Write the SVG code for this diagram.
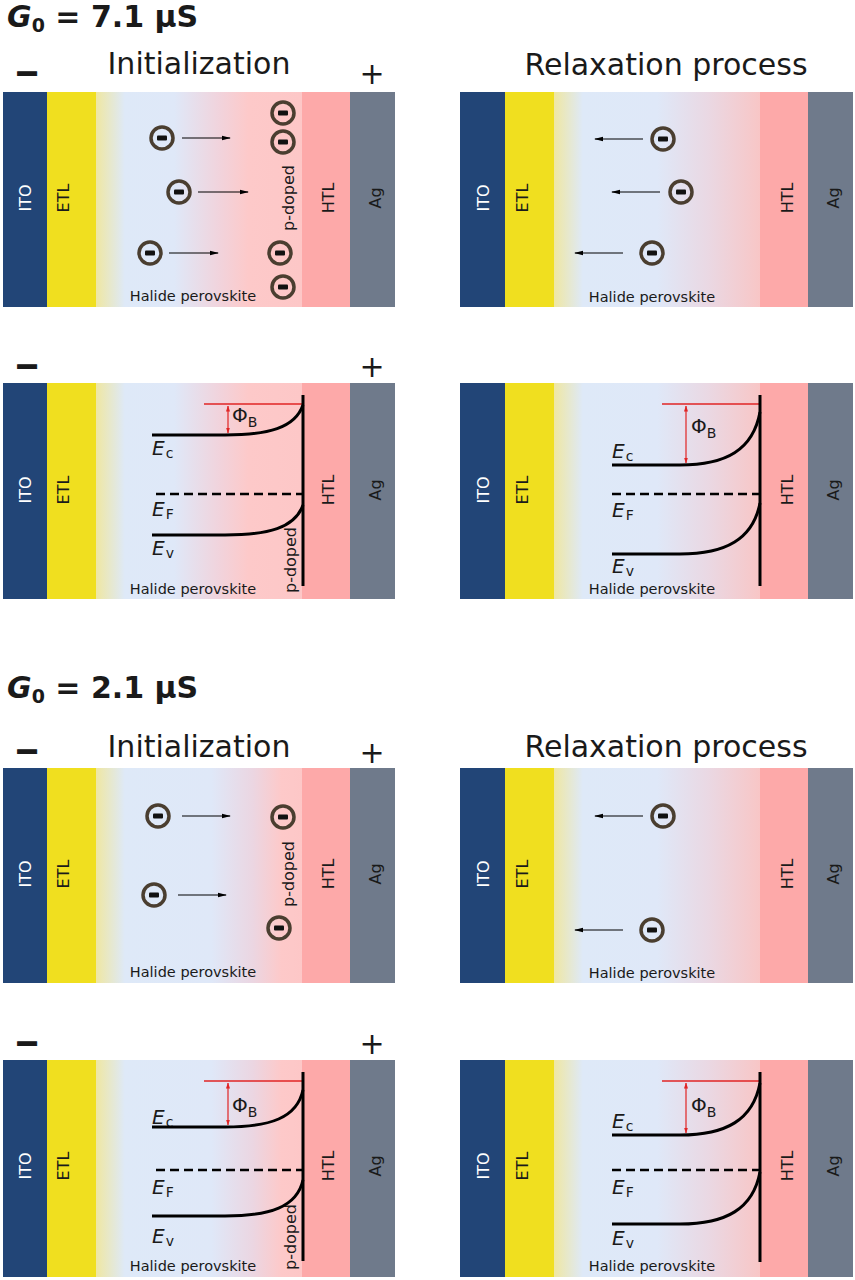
<svg xmlns="http://www.w3.org/2000/svg" width="855" height="1280" viewBox="0 0 855 1280">
<style>
text{font-family:"DejaVu Sans","Verdana",sans-serif;fill:#1a1a1a}
.title{font-size:30px;font-weight:bold}
.head{font-size:30px}
.sign{font-size:30px}
.minus{font-size:30px;font-weight:bold;stroke:#1a1a1a;stroke-width:1.2}
.lay{font-size:16px}
.wht{fill:#ffffff}
.hp{font-size:14.5px}
.band{fill:none;stroke:#000;stroke-width:3}
.dash{fill:none;stroke:#000;stroke-width:2.5;stroke-dasharray:9 5}
.vline{stroke:#000;stroke-width:3}
.red{stroke:#e02424;stroke-width:1.5;fill:none}
.redarr{stroke:#e02424;stroke-width:1.2;marker-start:url(#rh);marker-end:url(#rh)}
.arr{stroke:#000;stroke-width:1.2;marker-end:url(#ah)}
.E{font-size:20px;font-style:italic}
.sub{font-size:14px;font-style:normal}
.phi{font-size:20px}
</style>
<defs>
<marker id="ah" markerWidth="9" markerHeight="6" refX="8" refY="3" orient="auto" markerUnits="userSpaceOnUse"><path d="M0,0.8 L9,3 L0,5.2 Z" fill="#000"/></marker>
<marker id="rh" markerWidth="6" markerHeight="5" refX="5.5" refY="2.5" orient="auto-start-reverse" markerUnits="userSpaceOnUse"><path d="M0,0.5 L6,2.5 L0,4.5 Z" fill="#e02424"/></marker>
<linearGradient id="gA" x1="0" y1="0" x2="1" y2="0">
<stop offset="0" stop-color="#efe7a2"/><stop offset="0.14" stop-color="#dee9f8"/><stop offset="0.38" stop-color="#dfe8f8"/><stop offset="0.6" stop-color="#f1d3dc"/><stop offset="0.74" stop-color="#fdc9c9"/><stop offset="1" stop-color="#fdc7c7"/>
</linearGradient>
<linearGradient id="gB" x1="0" y1="0" x2="1" y2="0">
<stop offset="0" stop-color="#efe7a2"/><stop offset="0.14" stop-color="#dee9f8"/><stop offset="0.56" stop-color="#dfe8f8"/><stop offset="0.76" stop-color="#ebd6e2"/><stop offset="0.9" stop-color="#fdc9c9"/><stop offset="1" stop-color="#fdc7c7"/>
</linearGradient>
<linearGradient id="gC" x1="0" y1="0" x2="1" y2="0">
<stop offset="0" stop-color="#efe7a2"/><stop offset="0.14" stop-color="#dee9f8"/><stop offset="0.5" stop-color="#dfe8f8"/><stop offset="0.75" stop-color="#ead8e3"/><stop offset="1" stop-color="#f8c6c6"/>
</linearGradient>
<g id="ion"><circle r="11" fill="none" stroke="#4a3e30" stroke-width="3.5"/><rect x="-5" y="-2.5" width="10" height="5" rx="1" fill="#111"/></g>
</defs>
<rect width="855" height="1280" fill="#ffffff"/>

<g id="titles">
<text class="title" x="7" y="27"><tspan font-style="italic">G</tspan><tspan font-size="19" dy="5">0</tspan><tspan dy="-5"> = 7.1 μS</tspan></text>
<text class="head" x="199" y="74" text-anchor="middle">Initialization</text>
<text class="head" x="666" y="75" text-anchor="middle">Relaxation process</text>
<text class="minus" x="27" y="83" text-anchor="middle">−</text>
<text class="sign" x="372" y="84" text-anchor="middle">+</text>
<text class="minus" x="27" y="376" text-anchor="middle">−</text>
<text class="sign" x="372" y="377" text-anchor="middle">+</text>
<text class="title" x="7" y="698"><tspan font-style="italic">G</tspan><tspan font-size="19" dy="5">0</tspan><tspan dy="-5"> = 2.1 μS</tspan></text>
<text class="head" x="199" y="757" text-anchor="middle">Initialization</text>
<text class="head" x="666" y="757" text-anchor="middle">Relaxation process</text>
<text class="minus" x="27" y="761" text-anchor="middle">−</text>
<text class="sign" x="372" y="763" text-anchor="middle">+</text>
<text class="minus" x="27" y="1053" text-anchor="middle">−</text>
<text class="sign" x="372" y="1054" text-anchor="middle">+</text>
</g>

<g id="panel-r1-left" transform="translate(3,92)">
<rect x="0" y="0" width="44" height="215" fill="#224577"/>
<rect x="44" y="0" width="49" height="215" fill="#f0df1f"/>
<rect x="93" y="0" width="206" height="215" fill="url(#gA)"/>
<rect x="299" y="0" width="48" height="215" fill="#fda9a9"/>
<rect x="347" y="0" width="45" height="215" fill="#6f7a8b"/>
<text class="lay wht" transform="translate(22,106) rotate(-90)" text-anchor="middle" dominant-baseline="central">ITO</text>
<text class="lay" transform="translate(60,106) rotate(-90)" text-anchor="middle" dominant-baseline="central">ETL</text>
<text class="lay" transform="translate(325,106) rotate(-90)" text-anchor="middle" dominant-baseline="central">HTL</text>
<text class="lay" transform="translate(372,106) rotate(-90)" text-anchor="middle" dominant-baseline="central">Ag</text>
<text class="lay" transform="translate(285,106) rotate(-90)" text-anchor="middle" dominant-baseline="central">p-doped</text>
<text class="hp" x="190" y="209" text-anchor="middle">Halide perovskite</text>
</g>

<g id="panel-r1-right" transform="translate(460,92)">
<rect x="0" y="0" width="45" height="215" fill="#224577"/>
<rect x="45" y="0" width="49" height="215" fill="#f0df1f"/>
<rect x="94" y="0" width="206" height="215" fill="url(#gC)"/>
<rect x="300" y="0" width="48" height="215" fill="#fda9a9"/>
<rect x="348" y="0" width="45" height="215" fill="#6f7a8b"/>
<text class="lay wht" transform="translate(23,106) rotate(-90)" text-anchor="middle" dominant-baseline="central">ITO</text>
<text class="lay" transform="translate(62,106) rotate(-90)" text-anchor="middle" dominant-baseline="central">ETL</text>
<text class="lay" transform="translate(327,106) rotate(-90)" text-anchor="middle" dominant-baseline="central">HTL</text>
<text class="lay" transform="translate(373,106) rotate(-90)" text-anchor="middle" dominant-baseline="central">Ag</text>
<text class="hp" x="192" y="210" text-anchor="middle">Halide perovskite</text>
</g>

<g id="panel-r2-left" transform="translate(3,383)">
<rect x="0" y="0" width="44" height="216" fill="#224577"/>
<rect x="44" y="0" width="49" height="216" fill="#f0df1f"/>
<rect x="93" y="0" width="206" height="216" fill="url(#gA)"/>
<rect x="299" y="0" width="48" height="216" fill="#fda9a9"/>
<rect x="347" y="0" width="45" height="216" fill="#6f7a8b"/>
<text class="lay wht" transform="translate(22,107) rotate(-90)" text-anchor="middle" dominant-baseline="central">ITO</text>
<text class="lay" transform="translate(60,107) rotate(-90)" text-anchor="middle" dominant-baseline="central">ETL</text>
<text class="lay" transform="translate(325,107) rotate(-90)" text-anchor="middle" dominant-baseline="central">HTL</text>
<text class="lay" transform="translate(372,107) rotate(-90)" text-anchor="middle" dominant-baseline="central">Ag</text>
<text class="lay" transform="translate(287,177) rotate(-90)" text-anchor="middle" dominant-baseline="central">p-doped</text>
<text class="hp" x="190" y="211" text-anchor="middle">Halide perovskite</text>
</g>

<g id="panel-r2-right" transform="translate(460,383)">
<rect x="0" y="0" width="45" height="216" fill="#224577"/>
<rect x="45" y="0" width="49" height="216" fill="#f0df1f"/>
<rect x="94" y="0" width="206" height="216" fill="url(#gC)"/>
<rect x="300" y="0" width="48" height="216" fill="#fda9a9"/>
<rect x="348" y="0" width="45" height="216" fill="#6f7a8b"/>
<text class="lay wht" transform="translate(23,107) rotate(-90)" text-anchor="middle" dominant-baseline="central">ITO</text>
<text class="lay" transform="translate(62,107) rotate(-90)" text-anchor="middle" dominant-baseline="central">ETL</text>
<text class="lay" transform="translate(327,107) rotate(-90)" text-anchor="middle" dominant-baseline="central">HTL</text>
<text class="lay" transform="translate(373,107) rotate(-90)" text-anchor="middle" dominant-baseline="central">Ag</text>
<text class="hp" x="192" y="211" text-anchor="middle">Halide perovskite</text>
</g>

<g id="panel-r3-left" transform="translate(3,768)">
<rect x="0" y="0" width="44" height="215" fill="#224577"/>
<rect x="44" y="0" width="49" height="215" fill="#f0df1f"/>
<rect x="93" y="0" width="206" height="215" fill="url(#gB)"/>
<rect x="299" y="0" width="48" height="215" fill="#fda9a9"/>
<rect x="347" y="0" width="45" height="215" fill="#6f7a8b"/>
<text class="lay wht" transform="translate(22,106) rotate(-90)" text-anchor="middle" dominant-baseline="central">ITO</text>
<text class="lay" transform="translate(60,106) rotate(-90)" text-anchor="middle" dominant-baseline="central">ETL</text>
<text class="lay" transform="translate(325,106) rotate(-90)" text-anchor="middle" dominant-baseline="central">HTL</text>
<text class="lay" transform="translate(372,106) rotate(-90)" text-anchor="middle" dominant-baseline="central">Ag</text>
<text class="lay" transform="translate(285,106) rotate(-90)" text-anchor="middle" dominant-baseline="central">p-doped</text>
<text class="hp" x="190" y="209" text-anchor="middle">Halide perovskite</text>
</g>

<g id="panel-r3-right" transform="translate(460,768)">
<rect x="0" y="0" width="45" height="215" fill="#224577"/>
<rect x="45" y="0" width="49" height="215" fill="#f0df1f"/>
<rect x="94" y="0" width="206" height="215" fill="url(#gC)"/>
<rect x="300" y="0" width="48" height="215" fill="#fda9a9"/>
<rect x="348" y="0" width="45" height="215" fill="#6f7a8b"/>
<text class="lay wht" transform="translate(23,106) rotate(-90)" text-anchor="middle" dominant-baseline="central">ITO</text>
<text class="lay" transform="translate(62,106) rotate(-90)" text-anchor="middle" dominant-baseline="central">ETL</text>
<text class="lay" transform="translate(327,106) rotate(-90)" text-anchor="middle" dominant-baseline="central">HTL</text>
<text class="lay" transform="translate(373,106) rotate(-90)" text-anchor="middle" dominant-baseline="central">Ag</text>
<text class="hp" x="192" y="210" text-anchor="middle">Halide perovskite</text>
</g>

<g id="panel-r4-left" transform="translate(3,1060)">
<rect x="0" y="0" width="44" height="217" fill="#224577"/>
<rect x="44" y="0" width="49" height="217" fill="#f0df1f"/>
<rect x="93" y="0" width="206" height="217" fill="url(#gB)"/>
<rect x="299" y="0" width="48" height="217" fill="#fda9a9"/>
<rect x="347" y="0" width="45" height="217" fill="#6f7a8b"/>
<text class="lay wht" transform="translate(22,106) rotate(-90)" text-anchor="middle" dominant-baseline="central">ITO</text>
<text class="lay" transform="translate(60,106) rotate(-90)" text-anchor="middle" dominant-baseline="central">ETL</text>
<text class="lay" transform="translate(325,106) rotate(-90)" text-anchor="middle" dominant-baseline="central">HTL</text>
<text class="lay" transform="translate(372,106) rotate(-90)" text-anchor="middle" dominant-baseline="central">Ag</text>
<text class="lay" transform="translate(287,177) rotate(-90)" text-anchor="middle" dominant-baseline="central">p-doped</text>
<text class="hp" x="190" y="211" text-anchor="middle">Halide perovskite</text>
</g>

<g id="panel-r4-right" transform="translate(460,1060)">
<rect x="0" y="0" width="45" height="217" fill="#224577"/>
<rect x="45" y="0" width="49" height="217" fill="#f0df1f"/>
<rect x="94" y="0" width="206" height="217" fill="url(#gC)"/>
<rect x="300" y="0" width="48" height="217" fill="#fda9a9"/>
<rect x="348" y="0" width="45" height="217" fill="#6f7a8b"/>
<text class="lay wht" transform="translate(23,106) rotate(-90)" text-anchor="middle" dominant-baseline="central">ITO</text>
<text class="lay" transform="translate(62,106) rotate(-90)" text-anchor="middle" dominant-baseline="central">ETL</text>
<text class="lay" transform="translate(327,106) rotate(-90)" text-anchor="middle" dominant-baseline="central">HTL</text>
<text class="lay" transform="translate(373,106) rotate(-90)" text-anchor="middle" dominant-baseline="central">Ag</text>
<text class="hp" x="192" y="211" text-anchor="middle">Halide perovskite</text>
</g>

<g id="band-r2-left">
<text class="E" x="152" y="455">E<tspan class="sub" dx="1" dy="3">c</tspan></text>
<text class="E" x="152" y="516">E<tspan class="sub" dx="1" dy="3">F</tspan></text>
<text class="E" x="152" y="555">E<tspan class="sub" dx="1" dy="3">v</tspan></text>
<path class="red" d="M204,404 H303"/>
<line class="redarr" x1="228" y1="406" x2="228" y2="433"/>
<text class="phi" x="232" y="422">Φ<tspan class="sub" dy="5">B</tspan></text>
<path class="band" d="M152,435 H225 C268,435 295,428 303,405"/>
<path class="band" d="M152,535 H225 C268,535 295,528 303,505"/>
<path class="dash" d="M156,494 H303"/>
<line class="vline" x1="303" y1="395" x2="303" y2="586"/>
</g>

<g id="band-r2-right">
<text class="E" x="612" y="458">E<tspan class="sub" dx="1" dy="3">c</tspan></text>
<text class="E" x="612" y="517">E<tspan class="sub" dx="1" dy="3">F</tspan></text>
<text class="E" x="612" y="573">E<tspan class="sub" dx="1" dy="3">v</tspan></text>
<path class="red" d="M662,404 H760"/>
<line class="redarr" x1="686" y1="406" x2="686" y2="463"/>
<text class="phi" x="691" y="433">Φ<tspan class="sub" dy="5">B</tspan></text>
<path class="band" d="M612,465 H680 C726,465 753,450 760,412"/>
<path class="band" d="M612,554 H680 C726,554 753,539 760,503"/>
<path class="dash" d="M612,494 H760"/>
<line class="vline" x1="760" y1="395" x2="760" y2="586"/>
</g>

<g id="band-r4-left">
<text class="E" x="152" y="1124">E<tspan class="sub" dx="1" dy="3">c</tspan></text>
<text class="E" x="152" y="1194">E<tspan class="sub" dx="1" dy="3">F</tspan></text>
<text class="E" x="152" y="1243">E<tspan class="sub" dx="1" dy="3">v</tspan></text>
<path class="red" d="M204,1081 H303"/>
<line class="redarr" x1="228" y1="1083" x2="228" y2="1125"/>
<text class="phi" x="232" y="1112">Φ<tspan class="sub" dy="5">B</tspan></text>
<path class="band" d="M152,1127 H225 C270,1127 297,1118 303,1090"/>
<path class="band" d="M152,1216 H225 C270,1216 297,1207 303,1180"/>
<path class="dash" d="M156,1170 H303"/>
<line class="vline" x1="303" y1="1072" x2="303" y2="1261"/>
</g>

<g id="band-r4-right">
<text class="E" x="612" y="1128">E<tspan class="sub" dx="1" dy="3">c</tspan></text>
<text class="E" x="612" y="1194">E<tspan class="sub" dx="1" dy="3">F</tspan></text>
<text class="E" x="612" y="1245">E<tspan class="sub" dx="1" dy="3">v</tspan></text>
<path class="red" d="M662,1081 H760"/>
<line class="redarr" x1="686" y1="1083" x2="686" y2="1133"/>
<text class="phi" x="691" y="1112">Φ<tspan class="sub" dy="5">B</tspan></text>
<path class="band" d="M612,1135 H680 C726,1135 753,1120 760,1083"/>
<path class="band" d="M612,1224 H680 C726,1224 753,1209 760,1172"/>
<path class="dash" d="M612,1170 H760"/>
<line class="vline" x1="760" y1="1072" x2="760" y2="1262"/>
</g>

<g id="ions-r1-left">
<use href="#ion" x="162" y="138"/>
<use href="#ion" x="179" y="192"/>
<use href="#ion" x="150" y="253"/>
<use href="#ion" x="283" y="113"/>
<use href="#ion" x="283" y="142"/>
<use href="#ion" x="280" y="253"/>
<use href="#ion" x="283" y="287"/>
</g>
<g id="ions-r1-right">
<use href="#ion" x="663" y="139"/>
<use href="#ion" x="681" y="192"/>
<use href="#ion" x="652" y="253"/>
</g>
<g id="ions-r3-left">
<use href="#ion" x="158" y="816"/>
<use href="#ion" x="154" y="895"/>
<use href="#ion" x="283" y="817"/>
<use href="#ion" x="279" y="928"/>
</g>
<g id="ions-r3-right">
<use href="#ion" x="663" y="816"/>
<use href="#ion" x="652" y="930"/>
</g>

<g id="connectors">
<line class="arr" x1="182" y1="138" x2="230" y2="138"/>
<line class="arr" x1="198" y1="192" x2="248" y2="192"/>
<line class="arr" x1="169" y1="253" x2="218" y2="253"/>
<line class="arr" x1="643" y1="139" x2="595" y2="139"/>
<line class="arr" x1="660" y1="192" x2="612" y2="192"/>
<line class="arr" x1="623" y1="253" x2="575" y2="253"/>
<line class="arr" x1="182" y1="816" x2="230" y2="816"/>
<line class="arr" x1="178" y1="895" x2="226" y2="895"/>
<line class="arr" x1="643" y1="816" x2="595" y2="816"/>
<line class="arr" x1="623" y1="930" x2="575" y2="930"/>
</g>
</svg>
